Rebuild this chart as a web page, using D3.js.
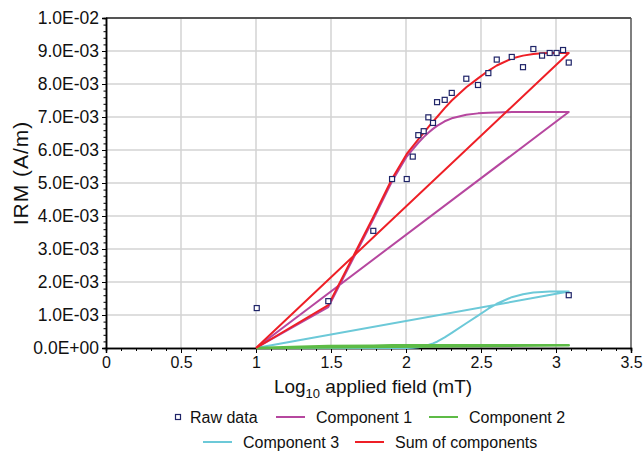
<!DOCTYPE html>
<html>
<head>
<meta charset="utf-8">
<script src="https://cdn.jsdelivr.net/npm/d3@7"></script>
<style>
  body { margin: 0; background: #fff; }
  text { font-family: "Liberation Sans", Arial, Helvetica, sans-serif; fill: #111; }
</style>
</head>
<body>
<svg id="chart" width="644" height="452"></svg>
<script>
// Measured IRM acquisition (log10 field in mT, IRM in A/m)
const rawX = [1.005, 1.482, 1.782, 1.907, 2.005, 2.045, 2.082, 2.118, 2.149, 2.180, 2.207, 2.258, 2.305,
              2.402, 2.480, 2.549, 2.605, 2.705, 2.780, 2.849, 2.907, 2.958, 3.004, 3.047, 3.085, 3.085];
const rawY = [1.21e-3, 1.42e-3, 3.55e-3, 5.12e-3, 5.12e-3, 5.80e-3, 6.45e-3, 6.57e-3, 6.99e-3, 6.82e-3, 7.45e-3, 7.52e-3, 7.73e-3,
              8.16e-3, 7.97e-3, 8.33e-3, 8.74e-3, 8.82e-3, 8.51e-3, 9.06e-3, 8.86e-3, 8.94e-3, 8.94e-3, 9.03e-3, 8.65e-3, 1.60e-3];

// Modelled coercivity components, evaluated at the fit fields
const fitX  = [1.000, 1.482, 1.782, 1.907, 2.005, 2.045, 2.082, 2.118, 2.149, 2.180, 2.207, 2.258, 2.305,
               2.402, 2.480, 2.549, 2.605, 2.705, 2.780, 2.849, 2.907, 2.958, 3.004, 3.047, 3.085];
const comp1 = [0.00e-3, 1.24e-3, 3.90e-3, 5.05e-3, 5.80e-3, 6.02e-3, 6.22e-3, 6.39e-3, 6.52e-3, 6.64e-3, 6.73e-3, 6.87e-3, 6.96e-3,
               7.07e-3, 7.11e-3, 7.13e-3, 7.14e-3, 7.15e-3, 7.15e-3, 7.15e-3, 7.15e-3, 7.15e-3, 7.15e-3, 7.15e-3, 7.15e-3];
const comp2 = [0.00e-3, 0.06e-3, 0.07e-3, 0.08e-3, 0.08e-3, 0.08e-3, 0.08e-3, 0.08e-3, 0.08e-3, 0.08e-3, 0.08e-3, 0.08e-3, 0.08e-3,
               0.08e-3, 0.08e-3, 0.08e-3, 0.08e-3, 0.08e-3, 0.08e-3, 0.08e-3, 0.08e-3, 0.08e-3, 0.08e-3, 0.08e-3, 0.08e-3];
const comp3 = [0.00e-3, 0.00e-3, 0.00e-3, 0.00e-3, 0.00e-3, 0.01e-3, 0.02e-3, 0.05e-3, 0.09e-3, 0.14e-3, 0.19e-3, 0.32e-3, 0.46e-3,
               0.75e-3, 0.98e-3, 1.19e-3, 1.34e-3, 1.54e-3, 1.63e-3, 1.68e-3, 1.70e-3, 1.71e-3, 1.71e-3, 1.71e-3, 1.71e-3];

// Axis ticks
const xTicks = [0, 0.5, 1, 1.5, 2, 2.5, 3, 3.5];
const xTickLabels = ["0", "0.5", "1", "1.5", "2", "2.5", "3", "3.5"];
const yTicks = [0, 1e-3, 2e-3, 3e-3, 4e-3, 5e-3, 6e-3, 7e-3, 8e-3, 9e-3, 1e-2];
const yTickLabels = ["0.0E+00", "1.0E-03", "2.0E-03", "3.0E-03", "4.0E-03", "5.0E-03",
                     "6.0E-03", "7.0E-03", "8.0E-03", "9.0E-03", "1.0E-02"];

const colors = { c1: "#b6479f", c2: "#5dbb46", c3: "#6cc9d8", sum: "#ee1f26", pts: "#1f2468" };

const svg = d3.select("#chart");
const L = 106, R = 631, T = 18, B = 348;
const x = d3.scaleLinear().domain([0, 3.5]).range([L, R]);
const y = d3.scaleLinear().domain([0, 0.01]).range([B, T]);

// Grid
const grid = svg.append("g");
grid.selectAll(".vg").data(xTicks.filter(v => v > 0 && v < 3.5)).join("line")
  .attr("x1", d => x(d)).attr("x2", d => x(d)).attr("y1", T).attr("y2", B)
  .attr("stroke", "#d3d3d3").attr("stroke-width", 1.5);
grid.selectAll(".hg").data(yTicks.filter(v => v > 0 && v < 0.01)).join("line")
  .attr("x1", L).attr("x2", R).attr("y1", d => y(d)).attr("y2", d => y(d))
  .attr("stroke", "#d3d3d3").attr("stroke-width", 1.5);

// Frame top / right
svg.append("line").attr("x1", L).attr("x2", R).attr("y1", T).attr("y2", T)
  .attr("stroke", "#555").attr("stroke-width", 2);
svg.append("line").attr("x1", R).attr("x2", R).attr("y1", T).attr("y2", B)
  .attr("stroke", "#555").attr("stroke-width", 1.5);

// Axes
const xAxis = d3.axisBottom(x).tickValues(xTicks).tickFormat((d, i) => xTickLabels[i]).tickSize(5).tickPadding(4);
const xMinor = d3.axisBottom(x).tickValues(d3.range(0, 3.51, 0.1)).tickFormat("").tickSize(3);
const yAxis = d3.axisLeft(y).tickValues(yTicks).tickFormat((d, i) => yTickLabels[i]).tickSize(4).tickPadding(3);
const yMinor = d3.axisLeft(y).tickValues(d3.range(0, 0.01001, 0.0002)).tickFormat("").tickSize(2.5);

function styleAxis(g, size) {
  g.select(".domain").attr("stroke", "#000").attr("stroke-width", 1.5);
  g.selectAll(".tick line").attr("stroke", "#000").attr("stroke-width", 1);
  g.selectAll(".tick text").style("font-size", size).attr("fill", "#111");
}
svg.append("g").attr("transform", `translate(0,${B})`).call(xMinor).call(styleAxis, "16px");
svg.append("g").attr("transform", `translate(0,${B})`).call(xAxis).call(styleAxis, "16px");
svg.append("g").attr("transform", `translate(${L},0)`).call(yMinor).call(styleAxis, "16px");
svg.append("g").attr("transform", `translate(${L},0)`).call(yAxis).call(styleAxis, "17.5px");

// Component curves: modelled curve, then a straight return to the start
const line = d3.line().x(d => x(d[0])).y(d => y(d[1]));
function closedPath(vals) {
  const pts = fitX.map((fx, i) => [fx, vals[i]]);
  pts.push(pts[0]);
  return pts;
}
const sumVals = fitX.map((_, i) => comp1[i] + comp2[i] + comp3[i]);

const curves = svg.append("g").attr("fill", "none").attr("stroke-linejoin", "round");
curves.append("path").datum(closedPath(comp1)).attr("d", line).attr("stroke", colors.c1).attr("stroke-width", 2);
curves.append("path").datum(closedPath(comp3)).attr("d", line).attr("stroke", colors.c3).attr("stroke-width", 2);
curves.append("path").datum(closedPath(comp2)).attr("d", line).attr("stroke", colors.c2).attr("stroke-width", 2.5);
curves.append("path").datum(closedPath(sumVals)).attr("d", line).attr("stroke", colors.sum).attr("stroke-width", 2);

// Raw data
svg.append("g").selectAll("rect").data(rawX.map((v, i) => [v, rawY[i]])).join("rect")
  .attr("x", d => x(d[0]) - 2.5).attr("y", d => y(d[1]) - 2.5)
  .attr("width", 5).attr("height", 5)
  .attr("fill", "#fff").attr("stroke", colors.pts).attr("stroke-width", 1.2);

// Axis titles
const xt = svg.append("text").attr("x", 373).attr("y", 393).attr("text-anchor", "middle").style("font-size", "19px");
xt.append("tspan").text("Log");
xt.append("tspan").attr("dy", 5).style("font-size", "13px").text("10");
xt.append("tspan").attr("dy", -5).text(" applied field (mT)");

svg.append("text").attr("transform", "translate(28,173) rotate(-90)").attr("text-anchor", "middle")
  .style("font-size", "21px").style("letter-spacing", "1px").text("IRM (A/m)");

// Legend
const leg = svg.append("g").style("font-size", "16px");
leg.append("rect").attr("x", 175.5).attr("y", 414.5).attr("width", 5).attr("height", 5)
  .attr("fill", "#fff").attr("stroke", colors.pts).attr("stroke-width", 1.2);
leg.append("text").attr("x", 190).attr("y", 423).text("Raw data");
const legItems = [
  { x: 276, y: 417, c: colors.c1, t: "Component 1" },
  { x: 429, y: 417, c: colors.c2, t: "Component 2" },
  { x: 203, y: 442, c: colors.c3, t: "Component 3" },
  { x: 355, y: 442, c: colors.sum, t: "Sum of components" }
];
legItems.forEach(d => {
  leg.append("line").attr("x1", d.x).attr("x2", d.x + 29).attr("y1", d.y).attr("y2", d.y)
    .attr("stroke", d.c).attr("stroke-width", 2);
  leg.append("text").attr("x", d.x + 40).attr("y", d.y + 6).text(d.t);
});
</script>
</body>
</html>
